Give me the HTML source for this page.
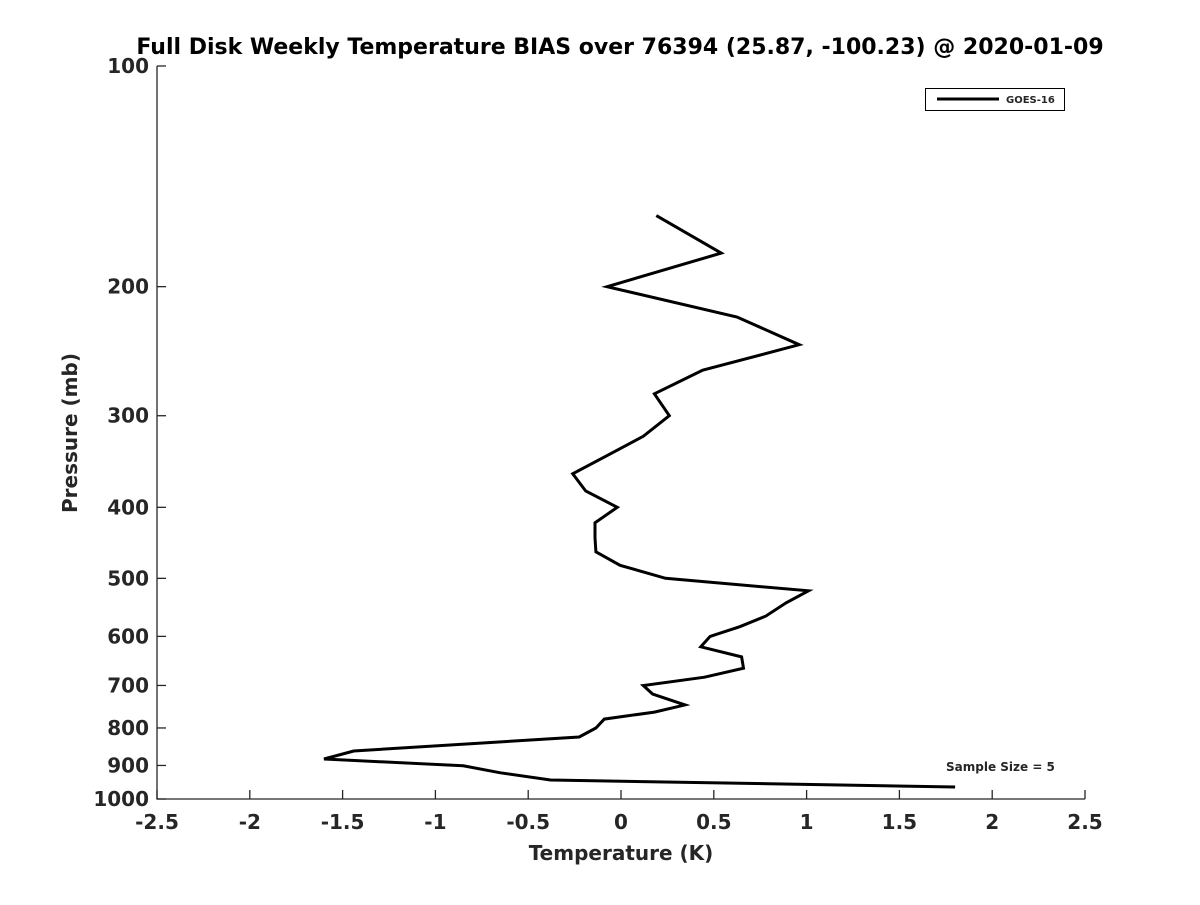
<!DOCTYPE html>
<html><head><meta charset="utf-8"><style>
body{margin:0;background:#fff}
svg text{font-family:"DejaVu Sans","Liberation Sans",sans-serif;font-weight:bold;fill:#262626}
</style></head><body>
<svg id="c" width="1200" height="900" xmlns="http://www.w3.org/2000/svg">
<rect width="1200" height="900" fill="#fff"/>
<text x="620" y="54" font-size="22" text-anchor="middle" style="fill:#000">Full Disk Weekly Temperature BIAS over 76394 (25.87, -100.23) @ 2020-01-09</text>
<g id="axes"></g>
<text x="621" y="860" font-size="20" text-anchor="middle">Temperature (K)</text>
<text transform="translate(77,433) rotate(-90)" font-size="20" text-anchor="middle">Pressure (mb)</text>
<g>
<rect x="925.5" y="88.5" width="139" height="22" fill="#fff" stroke="#000" stroke-width="1"/>
<line x1="937" y1="99" x2="999" y2="99" stroke="#000" stroke-width="3"/>
<text x="1006" y="103" font-size="10">GOES-16</text>
</g>
<text x="946" y="771" font-size="12">Sample Size = 5</text>
</svg>
<script>
const xTicks=[-2.5,-2,-1.5,-1,-0.5,0,0.5,1,1.5,2,2.5];
const yTicks=[100,200,300,400,500,600,700,800,900,1000];
const pressure=[160,180,200,220,240,260,280,300,320,340,360,380,400,420,440,460,480,500,520,540,563,582,600,620,640,663,682,700,719,744,761,778,800,823,860,882,901,921,942,963];
const bias=[0.19,0.54,-0.075,0.625,0.96,0.44,0.18,0.26,0.12,-0.075,-0.26,-0.19,-0.02,-0.14,-0.14,-0.135,-0.005,0.24,1.01,0.89,0.78,0.64,0.48,0.43,0.65,0.66,0.45,0.12,0.17,0.345,0.18,-0.09,-0.135,-0.225,-1.44,-1.6,-0.85,-0.65,-0.38,1.80];
const X0=157,X1=1085,Y0=66,Y1=799;
const xs=v=>X0+(v+2.5)/5*(X1-X0);
const ys=p=>Y0+Math.log10(p/100)*(Y1-Y0);
const NS="http://www.w3.org/2000/svg";
const g=document.getElementById('axes');
function mk(t,a){const e=document.createElementNS(NS,t);for(const k in a)e.setAttribute(k,a[k]);g.appendChild(e);return e;}
let e=mk('path',{d:`M${X0},${Y0}V${Y1}H${X1}`,fill:'none',stroke:'#262626','stroke-width':1.3});


xTicks.forEach(v=>{
 const x=xs(v);
 let t=mk('line',{x1:x,x2:x,y1:Y1,y2:Y1-9,stroke:'#262626','stroke-width':1.3});
 
 
 let l=mk('text',{x:x,y:Y1+30,'font-size':20,'text-anchor':'middle'});l.textContent=String(v);
 
 
});
yTicks.forEach(p=>{
 const y=ys(p);
 let t=mk('line',{x1:X0,x2:X0+9,y1:y,y2:y,stroke:'#262626','stroke-width':1.3});
 
 
 let l=mk('text',{x:X0-8,y:y+7,'font-size':20,'text-anchor':'end'});l.textContent=String(p);
 
 
});
const pts=pressure.map((p,i)=>xs(bias[i]).toFixed(1)+','+ys(p).toFixed(1)).join(' ');
let s=mk('polyline',{points:pts,fill:'none',stroke:'#000','stroke-width':3,'stroke-linejoin':'miter'});


</script>
</body></html>
